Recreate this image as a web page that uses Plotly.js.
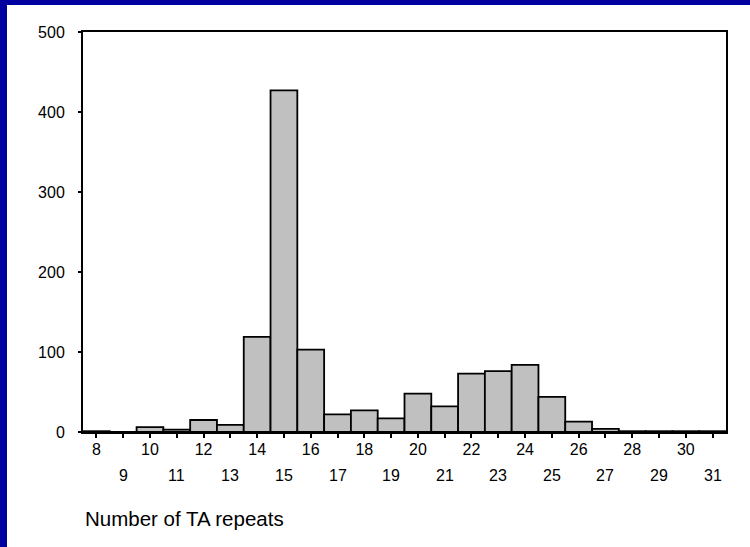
<!DOCTYPE html>
<html>
<head>
<meta charset="utf-8">
<script src="https://cdn.plot.ly/plotly-3.0.1.min.js"></script>
<style>
  html, body { margin: 0; padding: 0; background: #ffffff; }
  #wrap { position: relative; width: 750px; height: 547px; overflow: hidden; }
  #chart { position: absolute; left: 0; top: 0; width: 750px; height: 547px; }
  .band { position: absolute; background: #0000A0; pointer-events: none; }
</style>
</head>
<body>
<div id="wrap">
  <div id="chart"></div>
  <div class="band" style="left:0;top:0;width:750px;height:5px;"></div>
  <div class="band" style="left:0;top:0;width:7px;height:547px;"></div>
</div>
<script>
const categories = [8, 9, 10, 11, 12, 13, 14, 15, 16, 17, 18, 19, 20, 21, 22, 23, 24, 25, 26, 27, 28, 29, 30, 31];
const counts     = [1, 0, 6, 3, 15, 9, 119, 427, 103, 22, 27, 17, 48, 32, 73, 76, 84, 44, 13, 4, 1, 1, 1, 1];
const yTicks = [0, 100, 200, 300, 400, 500];
const xTitle = "Number of TA repeats";

const oddCats = categories.filter(c => c % 2 === 1);
const xRange = [categories[0] - 0.5, categories[categories.length - 1] + 0.5];
const fam = "Liberation Sans, Arial, sans-serif";
const font = { family: fam, size: 16, color: "#000000" };

const trace = {
  type: "bar",
  x: categories,
  y: counts,
  width: 1,
  marker: { color: "#C0C0C0", line: { color: "#000000", width: 1.8 } },
  hoverinfo: "x+y"
};

const oddLabelAnnotations = oddCats.map(c => ({
  text: String(c),
  xref: "x", yref: "paper",
  x: c, y: 0,
  xanchor: "center", yanchor: "middle",
  yshift: -43,
  showarrow: false,
  font: font
}));

const layout = {
  width: 750,
  height: 547,
  margin: { l: 83, r: 24, t: 32, b: 115 },
  paper_bgcolor: "#ffffff",
  plot_bgcolor: "#ffffff",
  showlegend: false,
  bargap: 0,
  font: font,
  xaxis: {
    range: xRange,
    tickmode: "array",
    tickvals: categories,
    ticktext: categories.map(c => (c % 2 === 0 ? String(c) : "")),
    ticks: "outside",
    ticklen: 4,
    tickwidth: 2,
    tickcolor: "#000000",
    showgrid: false,
    zeroline: false,
    showline: true,
    linecolor: "#000000",
    linewidth: 2,
    mirror: true,
    tickfont: font,
    ticklabelstandoff: -2
  },
  yaxis: {
    range: [0, 500],
    tickmode: "array",
    tickvals: yTicks,
    ticktext: yTicks.map(String),
    ticks: "outside",
    ticklen: 3,
    tickwidth: 2,
    tickcolor: "#000000",
    showgrid: false,
    zeroline: false,
    showline: true,
    linecolor: "#000000",
    linewidth: 2,
    mirror: true,
    tickfont: font,
    ticklabelstandoff: 10
  },
  annotations: oddLabelAnnotations.concat([{
    text: xTitle,
    xref: "paper", yref: "paper",
    x: 0, y: -0.215,
    xanchor: "left", yanchor: "middle",
    showarrow: false,
    font: { family: fam, size: 20.5, color: "#000000" }
  }])
};

Plotly.newPlot("chart", [trace], layout, { displayModeBar: false, staticPlot: true });
</script>
</body>
</html>
